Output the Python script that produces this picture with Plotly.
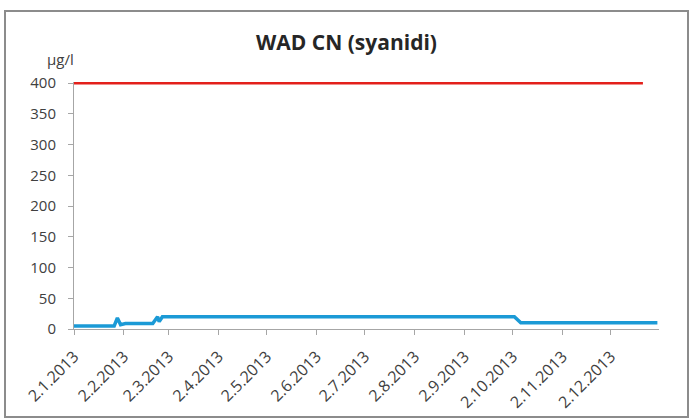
import plotly.graph_objects as go

# Data
cn_dates = ["2013-01-02", "2013-01-27", "2013-01-29", "2013-01-31", "2013-02-03",
            "2013-02-20", "2013-02-23", "2013-02-24", "2013-02-26", "2013-10-03",
            "2013-10-07", "2013-12-31"]
cn_values = [5, 5, 18, 7, 9, 9, 20, 12, 20, 20, 10, 10]

limit_dates = ["2013-01-02", "2013-12-22"]
limit_values = [400, 400]

tick_dates = ["2013-%02d-02" % m for m in range(1, 13)]
tick_labels = ["2.%d.2013" % m for m in range(1, 13)]

fig = go.Figure()
fig.add_trace(go.Scatter(x=limit_dates, y=limit_values, mode="lines",
                         line=dict(color="#E3201B", width=2.5), showlegend=False))
fig.add_trace(go.Scatter(x=cn_dates, y=cn_values, mode="lines",
                         line=dict(color="#1B9AD6", width=3.5), showlegend=False))

font_family = "'Open Sans', Lato, sans-serif"
fig.update_layout(
    width=693, height=419,
    margin=dict(l=74, r=34, t=82, b=90, autoexpand=False),
    paper_bgcolor="white", plot_bgcolor="white",
    font=dict(family=font_family, color="#404040", size=14),
    title=dict(text="<b>WAD CN (syanidi)</b>", x=0.5, xanchor="center",
               y=1 - 43 / 419, yanchor="middle", automargin=False,
               font=dict(size=21, color="#262626", family=font_family)),
    xaxis=dict(type="date", range=["2013-01-02", "2014-01-01"], automargin=False,
               tickvals=tick_dates, ticktext=tick_labels, tickangle=-45,
               showgrid=False, zeroline=False, showline=True,
               linecolor="#A6A6A6", linewidth=1, ticks="outside",
               ticklen=5, tickcolor="#A6A6A6", ticklabelstandoff=6,
               tickfont=dict(size=16, color="#404040")),
    yaxis=dict(range=[0, 402], tickvals=[0, 50, 100, 150, 200, 250, 300, 350, 400],
               automargin=False,
               showgrid=False, zeroline=False, showline=True,
               linecolor="#A6A6A6", linewidth=1, ticks="outside",
               ticklen=5, tickcolor="#A6A6A6", ticklabelstandoff=9,
               tickfont=dict(size=15, color="#404040")),
    annotations=[dict(text="μg/l", xref="paper", yref="paper", x=2 / 585, y=(329 - 59) / 247,
                      xanchor="right", yanchor="middle", showarrow=False,
                      font=dict(size=15, color="#404040"))],
    shapes=[dict(type="rect", xref="paper", yref="paper",
                 x0=-69 / 585, x1=(688 - 74) / 585,
                 y0=-(417 - 329) / 247, y1=(329 - 11) / 247,
                 line=dict(color="#8C8C8C", width=2), fillcolor="rgba(0,0,0,0)",
                 layer="below")],
)

fig.write_html("out.html", config={"displayModeBar": False},
               post_script="document.body.style.margin='0';")
